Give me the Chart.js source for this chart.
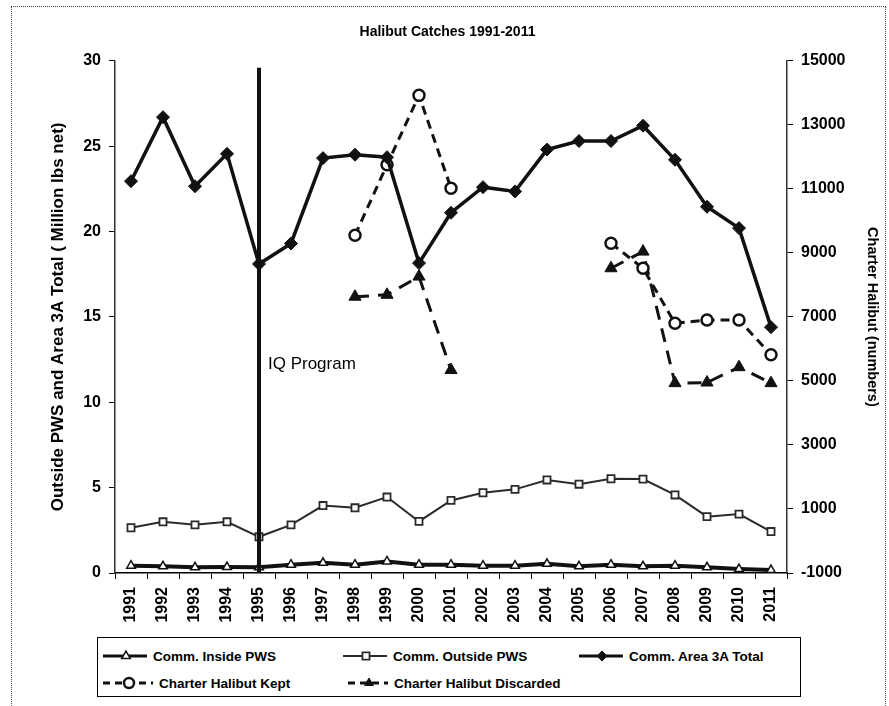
<!DOCTYPE html>
<html>
<head>
<meta charset="utf-8">
<script src="https://cdn.jsdelivr.net/npm/chart.js@4.4.0/dist/chart.umd.min.js"></script>
<style>
  html, body { margin: 0; padding: 0; background: #fff; }
  body { width: 889px; height: 706px; overflow: hidden; position: relative;
         font-family: 'Liberation Sans Narrow', 'Liberation Sans', Arial, sans-serif; }
  #frame { position: absolute; left: 11px; top: 6px; width: 873px; height: 720px; border: 1px dotted #444; }
  #c { position: absolute; left: 0; top: 0; }
  #legend { position: absolute; left: 97px; top: 637px; width: 704px; height: 60px;
            border: 1.5px solid #000; box-sizing: border-box; background: #fff; }
  .item { position: absolute; display: flex; align-items: center; font-weight: bold;
          font-size: 13.5px; white-space: nowrap; color: #000; }
  .item canvas { margin-right: 2px; }
</style>
</head>
<body>
<div id="frame"></div>
<canvas id="c" width="889" height="706"></canvas>
<div id="legend"></div>
<script>
// ---- data ----
const years = ['1991','1992','1993','1994','1995','1996','1997','1998','1999','2000',
               '2001','2002','2003','2004','2005','2006','2007','2008','2009','2010','2011'];

const insidePWS  = [0.43, 0.39, 0.33, 0.35, 0.33, 0.49, 0.6, 0.49, 0.68, 0.49,
                    0.49, 0.43, 0.43, 0.54, 0.39, 0.49, 0.39, 0.43, 0.33, 0.23, 0.17];
const outsidePWS = [2.65, 3.0, 2.82, 3.0, 2.12, 2.82, 3.95, 3.82, 4.45, 3.02,
                    4.25, 4.7, 4.9, 5.45, 5.2, 5.52, 5.5, 4.57, 3.3, 3.45, 2.43];
const area3ATotal = [22.95, 26.7, 22.65, 24.55, 18.1, 19.3, 24.3, 24.5, 24.35, 18.15,
                     21.1, 22.6, 22.35, 24.8, 25.3, 25.3, 26.2, 24.2, 21.45, 20.2, 14.4];
const charterKept = [null, null, null, null, null, null, null, 9550, 11750, 13920,
                     11020, null, null, null, null, 9300, 8520, 6800, 6900, 6900, 5820];
const charterDiscarded = [null, null, null, null, null, null, null, 7630, 7690, 8260,
                          5340, null, null, null, null, 8520, 9040, 4930, 4950, 5430, 4930];

const leftTicks  = [0, 5, 10, 15, 20, 25, 30];
const rightTicks = [-1000, 1000, 3000, 5000, 7000, 9000, 11000, 13000, 15000];

const iqYear = '1995';
const iqTop = 29.6;      // top of the IQ Program marker line, left-axis units
const iqLabelAt = 12.2;  // left-axis value where the label sits

Chart.defaults.font.family = "'Liberation Sans Narrow', 'Liberation Sans', Arial, sans-serif";
Chart.defaults.font.weight = 'bold';
Chart.defaults.color = '#000';

const datasets = [
  { label: 'Comm. Inside PWS', data: insidePWS, yAxisID: 'y',
    borderColor: '#111', borderWidth: 4, pointStyle: 'triangle', pointRadius: 5,
    pointBackgroundColor: '#fff', pointBorderColor: '#111', pointBorderWidth: 1.5 },
  { label: 'Comm. Outside PWS', data: outsidePWS, yAxisID: 'y',
    borderColor: '#2a2a2a', borderWidth: 2, pointStyle: 'rect', pointRadius: 5,
    pointBackgroundColor: '#fff', pointBorderColor: '#2a2a2a', pointBorderWidth: 1.8 },
  { label: 'Comm. Area 3A Total', data: area3ATotal, yAxisID: 'y',
    borderColor: '#111', borderWidth: 3.5, pointStyle: 'rectRot', pointRadius: 6.5,
    pointBackgroundColor: '#111', pointBorderColor: '#111', pointBorderWidth: 1 },
  { label: 'Charter Halibut Kept', data: charterKept, yAxisID: 'y1',
    borderColor: '#111', borderWidth: 3, borderDash: [9, 6], pointStyle: 'circle', pointRadius: 5.5,
    pointBackgroundColor: '#fff', pointBorderColor: '#111', pointBorderWidth: 2.5 },
  { label: 'Charter Halibut Discarded', data: charterDiscarded, yAxisID: 'y1',
    borderColor: '#111', borderWidth: 3, borderDash: [14, 9], pointStyle: 'triangle', pointRadius: 7,
    pointBackgroundColor: '#111', pointBorderColor: '#111', pointBorderWidth: 1 }
];

const iqLine = {
  id: 'iqLine',
  afterDatasetsDraw(chart) {
    const {ctx, scales: {x, y}} = chart;
    const px = x.getPixelForValue(years.indexOf(iqYear));
    ctx.save();
    ctx.strokeStyle = '#111';
    ctx.lineWidth = 4;
    ctx.beginPath();
    ctx.moveTo(px, y.getPixelForValue(iqTop));
    ctx.lineTo(px, y.getPixelForValue(0));
    ctx.stroke();
    ctx.fillStyle = '#000';
    ctx.font = "17px 'Liberation Sans Narrow', 'Liberation Sans', Arial, sans-serif";
    ctx.textBaseline = 'middle';
    ctx.fillText('IQ Program', px + 9, y.getPixelForValue(iqLabelAt));
    ctx.restore();
  }
};

const tickFont = { size: 16, weight: 'bold' };

const chart = new Chart(document.getElementById('c'), {
  type: 'line',
  data: { labels: years, datasets: datasets },
  options: {
    responsive: false,
    animation: false,
    layout: { padding: { left: 12, right: 6, top: 8, bottom: 68 } },
    elements: { line: { tension: 0 } },
    plugins: {
      legend: { display: false },
      tooltip: { enabled: false },
      title: { display: true, text: 'Halibut Catches 1991-2011', color: '#000',
               font: { size: 14, weight: 'bold' }, padding: { top: 16, bottom: 20 } }
    },
    scales: {
      x: {
        type: 'category', offset: true,
        grid: { offset: true, drawOnChartArea: false, drawTicks: true, tickLength: 6, color: '#000' },
        border: { color: '#000', width: 1.5 },
        ticks: { autoSkip: false, minRotation: 90, maxRotation: 90, padding: 8, color: '#000', font: tickFont },
        afterFit: s => { s.height = 65; }
      },
      y: {
        position: 'left', min: 0, max: 30,
        afterBuildTicks: s => { s.ticks = leftTicks.map(v => ({ value: v })); },
        grid: { drawOnChartArea: false, tickLength: 6, color: '#000' },
        border: { color: '#333', width: 1.5 },
        ticks: { padding: 8, color: '#000', font: tickFont },
        title: { display: true, text: 'Outside PWS and Area 3A Total ( Million lbs net)', color: '#000',
                 font: { size: 17, weight: 'bold' }, padding: { top: 36, bottom: 0 } },
        afterFit: s => { s.width = 103; }
      },
      y1: {
        position: 'right', min: -1000, max: 15000,
        afterBuildTicks: s => { s.ticks = rightTicks.map(v => ({ value: v })); },
        grid: { drawOnChartArea: false, tickLength: 6, color: '#000' },
        border: { color: '#333', width: 1.5 },
        ticks: { padding: 8, color: '#000', font: tickFont, callback: v => String(v) },
        title: { display: true, text: 'Charter Halibut (numbers)', color: '#000',
                 font: { size: 14.5, weight: 'bold' }, padding: { top: 2, bottom: 0 } },
        afterFit: s => { s.width = 96; }
      }
    }
  },
  plugins: [iqLine]
});

// ---- legend (html, icons drawn with the datasets' own styles) ----
const legendSlots = [
  { left: 3, top: 10, w: 50 }, { left: 243, top: 10, w: 50 }, { left: 479, top: 10, w: 50 },
  { left: 3, top: 37, w: 56 }, { left: 248, top: 37, w: 46 }
];
const legendEl = document.getElementById('legend');
datasets.forEach((ds, i) => {
  const slot = legendSlots[i];
  const item = document.createElement('div');
  item.className = 'item';
  item.style.left = slot.left + 'px';
  item.style.top = slot.top + 'px';
  const cv = document.createElement('canvas');
  cv.width = slot.w; cv.height = 16;
  const g = cv.getContext('2d');
  g.strokeStyle = ds.borderColor;
  g.lineWidth = Math.min(ds.borderWidth, 3);
  if (ds.borderDash) g.setLineDash([7, 5]);
  g.beginPath(); g.moveTo(2, 8); g.lineTo(slot.w - 4, 8); g.stroke();
  g.setLineDash([]);
  g.fillStyle = ds.pointBackgroundColor;
  g.strokeStyle = ds.pointBorderColor;
  g.lineWidth = ds.pointBorderWidth;
  Chart.helpers.drawPoint(g, { pointStyle: ds.pointStyle, radius: Math.min(ds.pointRadius, 5),
                               rotation: 0, borderWidth: ds.pointBorderWidth }, slot.w / 2, 8);
  const span = document.createElement('span');
  span.textContent = ds.label;
  item.appendChild(cv);
  item.appendChild(span);
  legendEl.appendChild(item);
});
</script>
</body>
</html>
